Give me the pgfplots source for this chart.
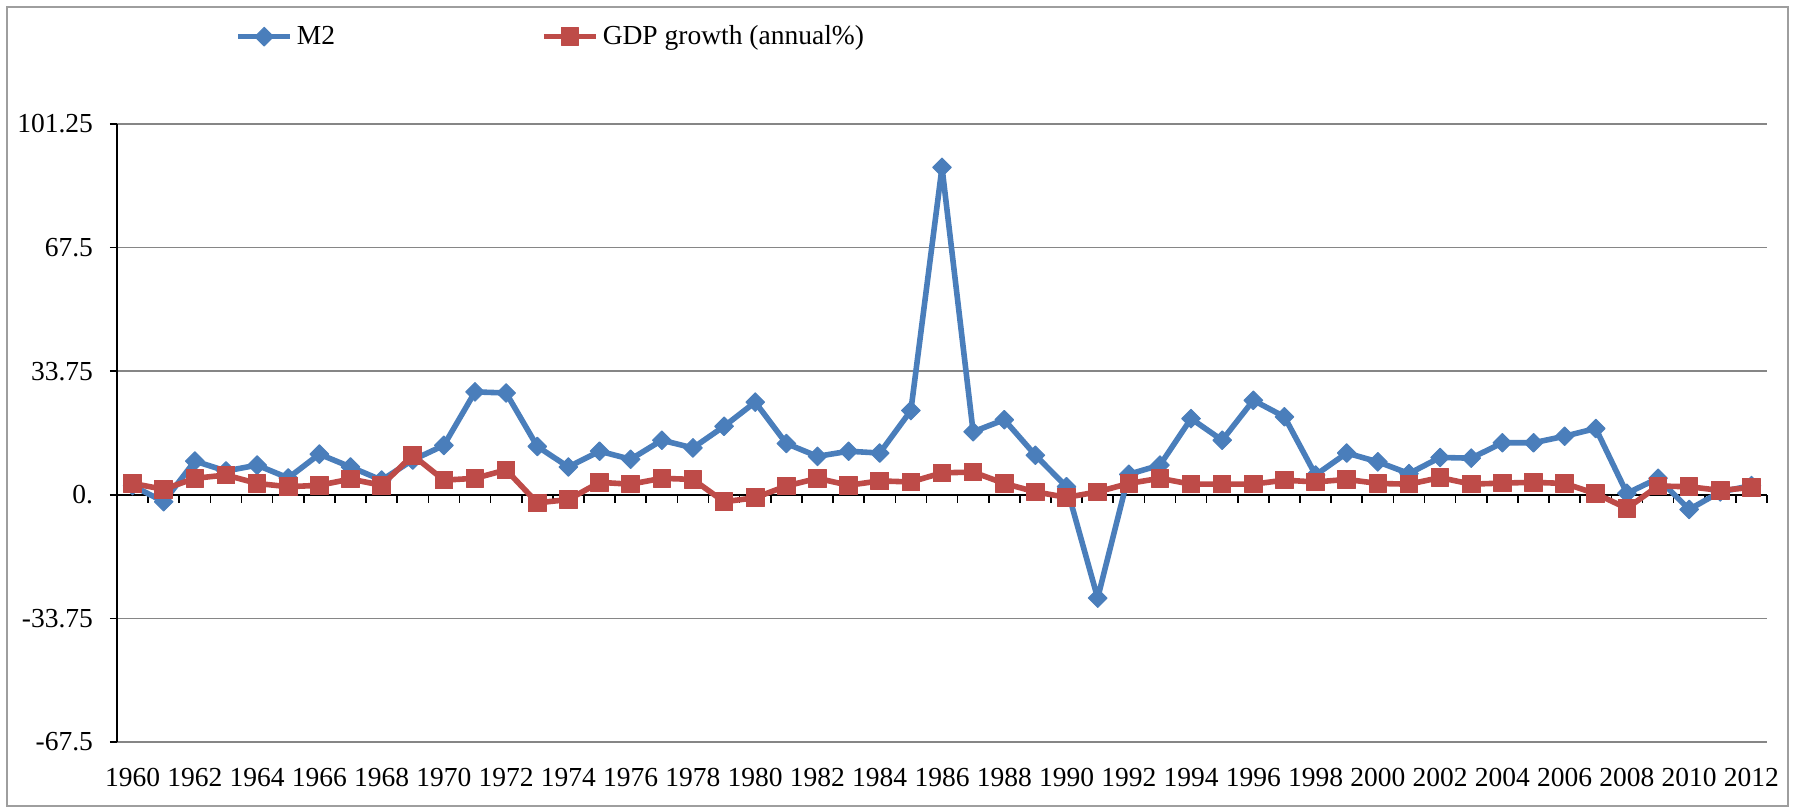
\documentclass[border=0pt]{standalone}
\usepackage{fontspec}
\setmainfont{Liberation Serif}
\usepackage{pgfplots}
\usepackage{pgfplotstable}
\pgfplotsset{compat=1.18}
\definecolor{mblue}{HTML}{4A7EBB}
\definecolor{gred}{HTML}{BE4B48}
\definecolor{gridgray}{HTML}{868686}

\pgfplotstableread{
i year m2 gdp
0 1960 2.5 3.1
1 1961 -1.9 1.5
2 1962 9.2 4.5
3 1963 6.5 5.4
4 1964 8.1 3.1
5 1965 4.6 2.2
6 1966 11.1 2.6
7 1967 7.6 4.3
8 1968 4.0 2.6
9 1969 9.5 10.8
10 1970 13.5 4.0
11 1971 28.1 4.5
12 1972 27.8 6.8
13 1973 13.2 -2.2
14 1974 7.6 -1.3
15 1975 11.9 3.4
16 1976 9.7 2.9
17 1977 14.9 4.5
18 1978 12.8 4.2
19 1979 18.7 -1.9
20 1980 25.3 -0.8
21 1981 14.0 2.4
22 1982 10.5 4.5
23 1983 11.9 2.6
24 1984 11.4 3.8
25 1985 23.0 3.5
26 1986 89.4 6.0
27 1987 17.2 6.2
28 1988 20.5 3.1
29 1989 10.8 0.8
30 1990 2.2 -0.7
31 1991 -28.2 0.8
32 1992 5.6 3.1
33 1993 8.1 4.5
34 1994 20.8 2.9
35 1995 14.9 2.9
36 1996 25.8 2.9
37 1997 21.3 4.0
38 1998 5.4 3.5
39 1999 11.4 4.2
40 2000 9.0 3.1
41 2001 5.8 2.9
42 2002 10.2 4.7
43 2003 10.0 2.9
44 2004 14.2 3.2
45 2005 14.2 3.4
46 2006 16.0 3.1
47 2007 18.1 0.3
48 2008 0.4 -3.7
49 2009 4.5 2.4
50 2010 -4.0 2.2
51 2011 0.8 1.2
52 2012 2.5 2.0
}\datatable

\begin{document}
\begin{tikzpicture}
\useasboundingbox (0,0) rectangle (899pt,404.5pt);
\draw[gridgray!80, line width=0.8pt] (3.5pt,1.5pt) rectangle (894pt,401pt);
% horizontal axis crossing at zero, with category ticks
\begin{axis}[
  at={(58.5pt,33.5pt)}, anchor=south west,
  scale only axis, width=825pt, height=309pt,
  xmin=-0.5, xmax=52.5, ymin=-67.5, ymax=101.25,
  axis x line*=middle, axis y line=none,
  xtick={0.5,1.5,...,52.5}, xticklabel=\empty,
  tick align=outside, major tick length=4pt,
  x axis line style={black, line width=1pt},
  xtick style={black, line width=0.8pt},
]
\end{axis}
\begin{axis}[
  at={(58.5pt,33.5pt)}, anchor=south west,
  scale only axis, width=825pt, height=309pt,
  xmin=-0.5, xmax=52.5, ymin=-67.5, ymax=101.25,
  axis y line*=left, axis x line*=bottom,
  x axis line style={draw=none},
  y axis line style={black, line width=1pt},
  xtick={0,2,...,52},
  xticklabels={1960,1962,1964,1966,1968,1970,1972,1974,1976,1978,1980,1982,1984,1986,1988,1990,1992,1994,1996,1998,2000,2002,2004,2006,2008,2010,2012},
  xtick style={draw=none},
  ytick={-67.5,-33.75,33.75,67.5,101.25},
  yticklabels={-67.5,-33.75,33.75,67.5,101.25},
  extra y ticks={0}, extra y tick labels={0.},
  extra y tick style={grid=none},
  ymajorgrids, grid style={gridgray, line width=0.8pt},
  tick align=outside, major tick length=3.5pt,
  ytick style={black, line width=0.8pt},
  tick label style={font=\fontsize{13.75}{16}\selectfont},
  xticklabel style={yshift=-6pt},
  yticklabel style={xshift=-5pt},
  legend columns=2,
  legend style={at={(0.0715,1.1413)}, anchor=west, draw=none, fill=none,
    inner sep=0pt, font=\fontsize{13.75}{16}\selectfont,
    /tikz/every even column/.append style={column sep=101pt}},
  legend image code/.code={\draw[mark repeat=2, mark phase=2, #1] plot coordinates {(0pt,0pt) (13pt,0pt) (26pt,0pt)};},
]
\addplot[color=mblue, line width=2.8pt, line join=round, mark=square*, mark size=3.3pt,
  mark options={rotate=45, line width=0.5pt, fill=mblue}] table[x=i, y=m2]{\datatable};
\addlegendentry{M2}
\addplot[color=gred, line width=2.8pt, line join=round, mark=square*, mark size=4.4pt,
  mark options={line width=0.5pt, fill=gred}] table[x=i, y=gdp]{\datatable};
\addlegendentry{GDP growth (annual\%)}
\end{axis}
\end{tikzpicture}
\end{document}
